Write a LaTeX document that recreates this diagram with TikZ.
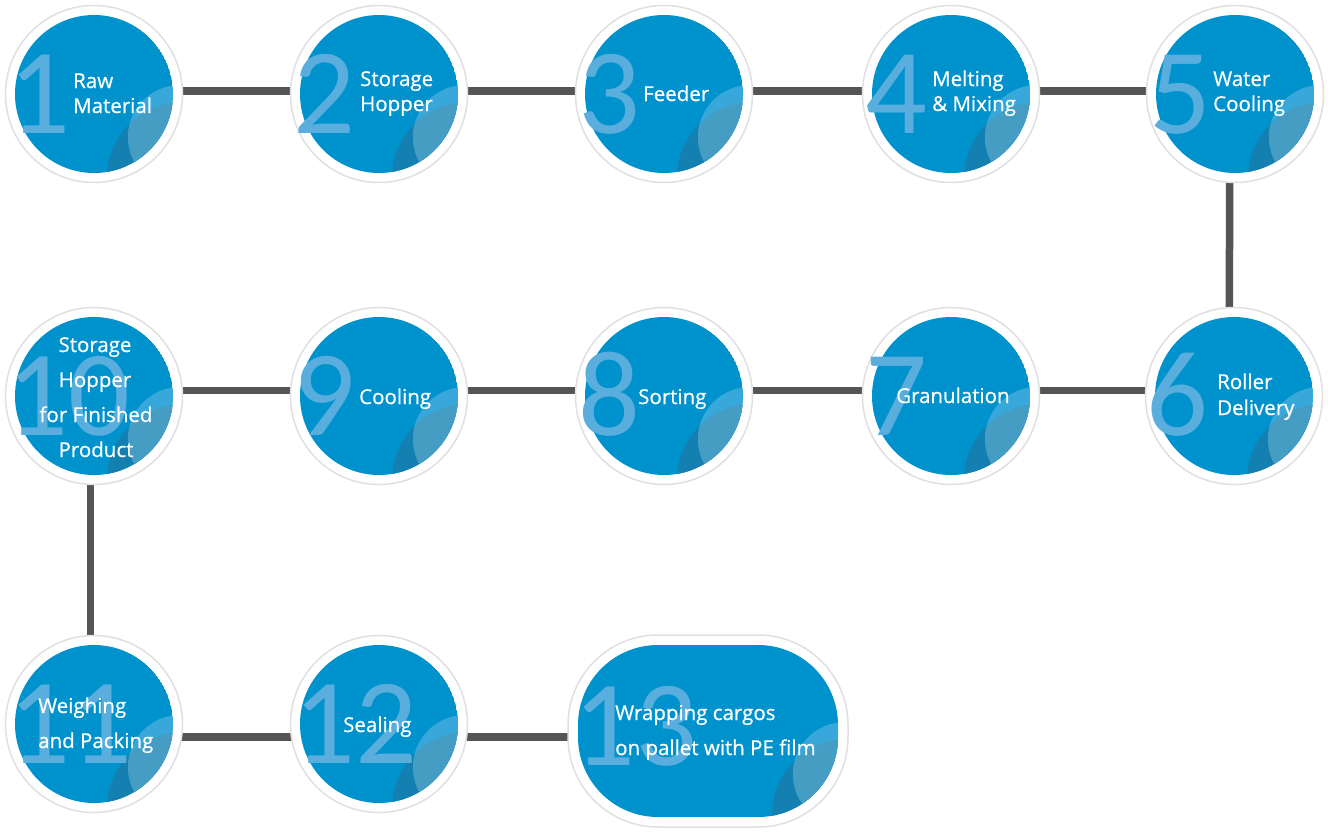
\documentclass[tikz,border=0pt]{standalone}
\usepackage{fontspec}
\setmainfont{Open Sans}
\newfontfamily\lblfont{Open Sans}[FakeBold=0.6]
\newfontfamily\digitfont{Carlito}
\definecolor{mainblue}{HTML}{0092CD}
\definecolor{lightreg}{HTML}{38A8DA}
\definecolor{overlapreg}{HTML}{459DC4}
\definecolor{darkreg}{HTML}{1480B1}
\definecolor{digitblue}{HTML}{5AAEDE}
\definecolor{linkgray}{HTML}{555555}
\pgfdeclarelayer{background}
\pgfsetlayers{background,main}
\tikzset{
  ring/.style={circle, fill=white, draw=black!12, line width=1.5pt, minimum size=177pt, inner sep=0pt},
  ringwide/.style={rectangle, rounded corners=90pt, fill=white, draw=black!12, line width=1.5pt, minimum width=280pt, minimum height=192pt, inner sep=0pt},
  lbl/.style={text=white, font=\lblfont\fontsize{20.5}{25}\selectfont, inner sep=0pt, anchor=base west},
  lblc/.style={lbl, anchor=base},
  num/.style={text=digitblue, font=\digitfont\fontsize{122}{122}\selectfont, inner sep=0pt, anchor=base west},
  link/.style={draw=linkgray, line width=7.5pt},
}
\newcommand\bubble[3]{%
  \node[ring] (#1) at (#2,#3) {};
  \begin{scope}
    \clip ({#2},{#3}) circle[radius=79pt];
    \fill[mainblue] ({#2},{#3}) circle[radius=79pt];
    \fill[darkreg] ({#2+89},{#3+84}) circle[radius=76pt];
    \fill[lightreg] ({#2+86},{#3+43}) circle[radius=52pt];
    \clip ({#2+89},{#3+84}) circle[radius=76pt];
    \fill[overlapreg] ({#2+86},{#3+43}) circle[radius=52pt];
  \end{scope}
}
\begin{document}
\begin{tikzpicture}[x=1pt,y=-1pt]
\useasboundingbox (0,0) rectangle (1328,833);

\bubble{n1}{94}{94}
\bubble{n2}{379}{94}
\bubble{n3}{664}{94}
\bubble{n4}{951}{94}
\bubble{n5}{1235}{94}
\bubble{n10}{94}{396}
\bubble{n9}{379}{396}
\bubble{n8}{664}{396}
\bubble{n7}{951}{396}
\bubble{n6}{1234}{396}
\bubble{n11}{94}{724}
\bubble{n12}{379}{724}

% wide step 13
\node[ringwide] (n13) at (708,731) {};
\begin{scope}
  \clip[rounded corners=80pt] (578,645) rectangle (838,817);
  \fill[mainblue] (578,645) rectangle (838,817);
  \fill[darkreg] (848,815) circle[radius=76pt];
  \fill[lightreg] (845,774) circle[radius=52pt];
  \clip (848,815) circle[radius=76pt];
  \fill[overlapreg] (845,774) circle[radius=52pt];
\end{scope}

% digits
\node[num] (d1) at (8,133) {1};
\node[num] (d2) at (293,133) {2};
\node[num] (d3) at (578,133) {3};
\node[num] (d4) at (865,133) {4};
\node[num] (d5) at (1149,133) {5};
\node[num] (d6) at (1146,435) {6};
\node[num] (d7) at (865,435) {7};
\node[num] (d8) at (578,435) {8};
\node[num] (d9) at (293,435) {9};
\node[num] (d10) at (6,435) {10};
\node[num] (d11) at (8,763) {11};
\node[num] (d12) at (293,763) {12};
\node[num] (d13) at (573,765) {13};

% labels
\node[lbl] (t1a) at (73,88) {Raw};
\node[lbl] (t1b) at (73,113) {Material};
\node[lbl] (t2a) at (360,86) {Storage};
\node[lbl] (t2b) at (360,111) {Hopper};
\node[lbl] (t3) at (643,101) {Feeder};
\node[lbl] (t4a) at (932,86) {Melting};
\node[lbl] (t4b) at (932,111) {\& Mixing};
\node[lbl] (t5a) at (1213,86) {Water};
\node[lbl] (t5b) at (1213,111) {Cooling};
\node[lbl] (t6a) at (1217,389) {Roller};
\node[lbl] (t6b) at (1217,415) {Delivery};
\node[lbl] (t7) at (896,403) {Granulation};
\node[lbl] (t8) at (638,404) {Sorting};
\node[lbl] (t9) at (359,404) {Cooling};
\node[lblc] (t10a) at (95,352) {Storage};
\node[lblc] (t10b) at (95,387) {Hopper};
\node[lblc] (t10c) at (96,422) {for Finished};
\node[lblc] (t10d) at (96,457) {Product};
\node[lbl] (t11a) at (38,713) {Weighing};
\node[lbl] (t11b) at (38,748) {and Packing};
\node[lbl] (t12) at (343,732) {Sealing};
\node[lbl] (t13a) at (615,720) {Wrapping cargos};
\node[lbl] (t13b) at (615,755) {on pallet with PE film};

% background and connectors
\begin{pgfonlayer}{background}
  \fill[white] (0,0) rectangle (1328,833);
  \draw[link] ([yshift=3pt]n1.center) -- ([yshift=3pt]n2.center);
  \draw[link] ([yshift=3pt]n2.center) -- ([yshift=3pt]n3.center);
  \draw[link] ([yshift=3pt]n3.center) -- ([yshift=3pt]n4.center);
  \draw[link] ([yshift=3pt]n4.center) -- ([yshift=3pt]n5.center);
  \draw[link] ([xshift=-5pt]n5.center) -- ([xshift=-5pt]n6.center);
  \draw[link] ([yshift=5.5pt]n6.center) -- ([yshift=5.5pt]n7.center);
  \draw[link] ([yshift=5.5pt]n7.center) -- ([yshift=5.5pt]n8.center);
  \draw[link] ([yshift=5.5pt]n8.center) -- ([yshift=5.5pt]n9.center);
  \draw[link] ([yshift=5.5pt]n9.center) -- ([yshift=5.5pt]n10.center);
  \draw[link] ([xshift=-3.5pt]n10.center) -- ([xshift=-3.5pt]n11.center);
  \draw[link] ([yshift=-13pt]n11.center) -- ([yshift=-13pt]n12.center);
  \draw[link] ([yshift=-13pt]n12.center) coordinate (c12) -- (c12 -| n13.center);
\end{pgfonlayer}
\end{tikzpicture}
\end{document}
